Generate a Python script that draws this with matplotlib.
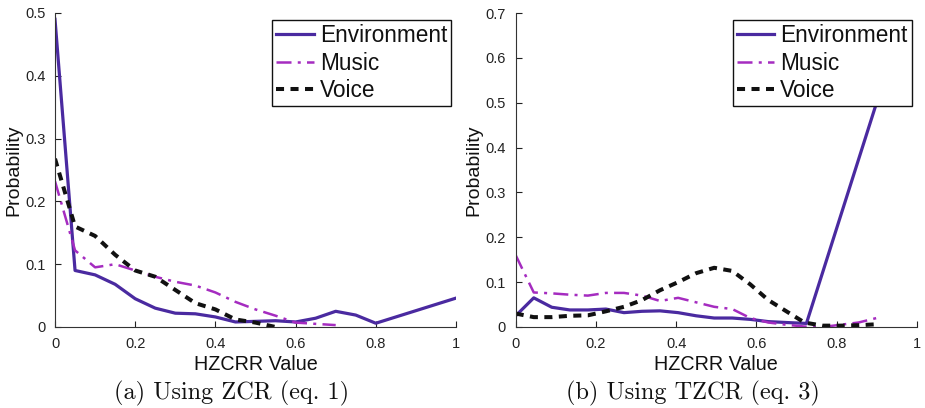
import matplotlib
matplotlib.use("Agg")
import matplotlib.pyplot as plt

# ---- data ----
x_a = [0.0, 0.05, 0.10, 0.15, 0.20, 0.25, 0.30, 0.35, 0.40, 0.45, 0.50,
       0.55, 0.60, 0.65, 0.70, 0.75, 0.80, 1.00]
env_a = [0.49, 0.090, 0.083, 0.068, 0.045, 0.030, 0.022, 0.021, 0.016, 0.008,
         0.009, 0.010, 0.008, 0.014, 0.025, 0.019, 0.006, 0.046]
x_music_a = [0.0, 0.05, 0.10, 0.15, 0.20, 0.25, 0.30, 0.35, 0.40, 0.45, 0.50,
             0.55, 0.60, 0.65, 0.70]
music_a = [0.232, 0.122, 0.095, 0.100, 0.090, 0.080, 0.072, 0.066, 0.055, 0.040,
           0.028, 0.018, 0.007, 0.005, 0.003]
x_voice_a = [0.0, 0.05, 0.10, 0.15, 0.20, 0.25, 0.30, 0.35, 0.40, 0.45, 0.50, 0.55]
voice_a = [0.268, 0.160, 0.145, 0.115, 0.090, 0.080, 0.059, 0.038, 0.028, 0.012,
           0.007, 0.0]

x_b = [0.0, 0.045, 0.09, 0.135, 0.18, 0.225, 0.27, 0.315, 0.36, 0.405, 0.45,
       0.495, 0.54, 0.585, 0.63, 0.675, 0.72, 0.765, 0.81, 0.855, 0.9]
x_env_b = [0.0, 0.045, 0.09, 0.135, 0.18, 0.225, 0.27, 0.315, 0.36, 0.405, 0.45,
           0.495, 0.54, 0.585, 0.63, 0.675, 0.725, 0.9]
env_b = [0.025, 0.065, 0.044, 0.038, 0.038, 0.040, 0.032, 0.035, 0.036, 0.032,
         0.025, 0.020, 0.020, 0.017, 0.012, 0.010, 0.008, 0.50]
music_b = [0.160, 0.077, 0.075, 0.072, 0.070, 0.076, 0.076, 0.070, 0.058, 0.065,
           0.055, 0.045, 0.040, 0.020, 0.010, 0.005, 0.001, 0.0, 0.005, 0.010, 0.020]
voice_b = [0.030, 0.022, 0.022, 0.025, 0.026, 0.035, 0.045, 0.060, 0.082, 0.100,
           0.120, 0.132, 0.125, 0.095, 0.060, 0.035, 0.010, 0.003, 0.003, 0.004, 0.006]

labels = ["Environment", "Music", "Voice"]
captions = ["(a) Using ZCR (eq. 1)", "(b) Using TZCR (eq. 3)"]
xticks = [0, 0.2, 0.4, 0.6, 0.8, 1]
xticklabels = ["0", "0.2", "0.4", "0.6", "0.8", "1"]
yticks_a = [0, 0.1, 0.2, 0.3, 0.4, 0.5]
yticklabels_a = ["0", "0.1", "0.2", "0.3", "0.4", "0.5"]
yticks_b = [0, 0.1, 0.2, 0.3, 0.4, 0.5, 0.6, 0.7]
yticklabels_b = ["0", "0.1", "0.2", "0.3", "0.4", "0.5", "0.6", "0.7"]

ENV_C = "#4a2aa0"
MUS_C = "#a52cc0"
VOI_C = "#111111"

plt.rcParams["font.family"] = ["Liberation Sans", "DejaVu Sans"]

fig = plt.figure(figsize=(9.25, 4.08), dpi=100)
W, H = 925.0, 408.0

def make_axes(left_px):
    return fig.add_axes([left_px / W, 1 - 327 / H, 401 / W, 314 / H])

panels = [
    (55, x_a, env_a, x_music_a, music_a, x_voice_a, voice_a, yticks_a, yticklabels_a, 0.5, 232),
    (515.7, x_env_b, env_b, x_b, music_b, x_b, voice_b, yticks_b, yticklabels_b, 0.7, 693),
]

for i, (lp, xe, ye, xm, ym, xv, yv, yt, ytl, ymax, capx) in enumerate(panels):
    ax = make_axes(lp)
    ax.plot(xe, ye, color=ENV_C, lw=2.3, label=labels[0], solid_joinstyle="round")
    ax.plot(xm, ym, color=MUS_C, lw=1.8, dashes=(6, 2.5, 1.2, 2.5), label=labels[1])
    ax.plot(xv, yv, color=VOI_C, lw=2.9, dashes=(2.0, 1.6), label=labels[2])
    ax.set_xlim(0, 1)
    ax.set_ylim(0, ymax)
    ax.set_xticks(xticks)
    ax.set_xticklabels(xticklabels)
    ax.set_yticks(yt)
    ax.set_yticklabels(ytl)
    ax.spines["top"].set_visible(False)
    ax.spines["right"].set_visible(False)
    for s in ("left", "bottom"):
        ax.spines[s].set_linewidth(0.8)
        ax.spines[s].set_color("#333333")
    ax.tick_params(direction="in", length=4, width=0.8, labelsize=10.5,
                   colors="#222222", pad=7)
    ax.set_xlabel("HZCRR Value", fontsize=14.2, labelpad=3, color="#111111")
    ax.set_ylabel("Probability", fontsize=14, labelpad=2, color="#111111")
    leg = ax.legend(loc="upper right", bbox_to_anchor=(0.9875, 0.978), fontsize=16.3,
                    frameon=True, fancybox=False, edgecolor="#111111",
                    handlelength=1.65, handletextpad=0.27, borderpad=0.18,
                    labelspacing=0.2, borderaxespad=0.0, framealpha=1)
    leg.get_frame().set_linewidth(1.0)
    for t in leg.get_texts():
        t.set_color("#111111")
    fig.text(capx / W, 1 - 393 / H, captions[i], ha="center", va="center",
             fontsize=17.5, family="cmr10", color="#111111")

fig.savefig("out.png", dpi=100)
